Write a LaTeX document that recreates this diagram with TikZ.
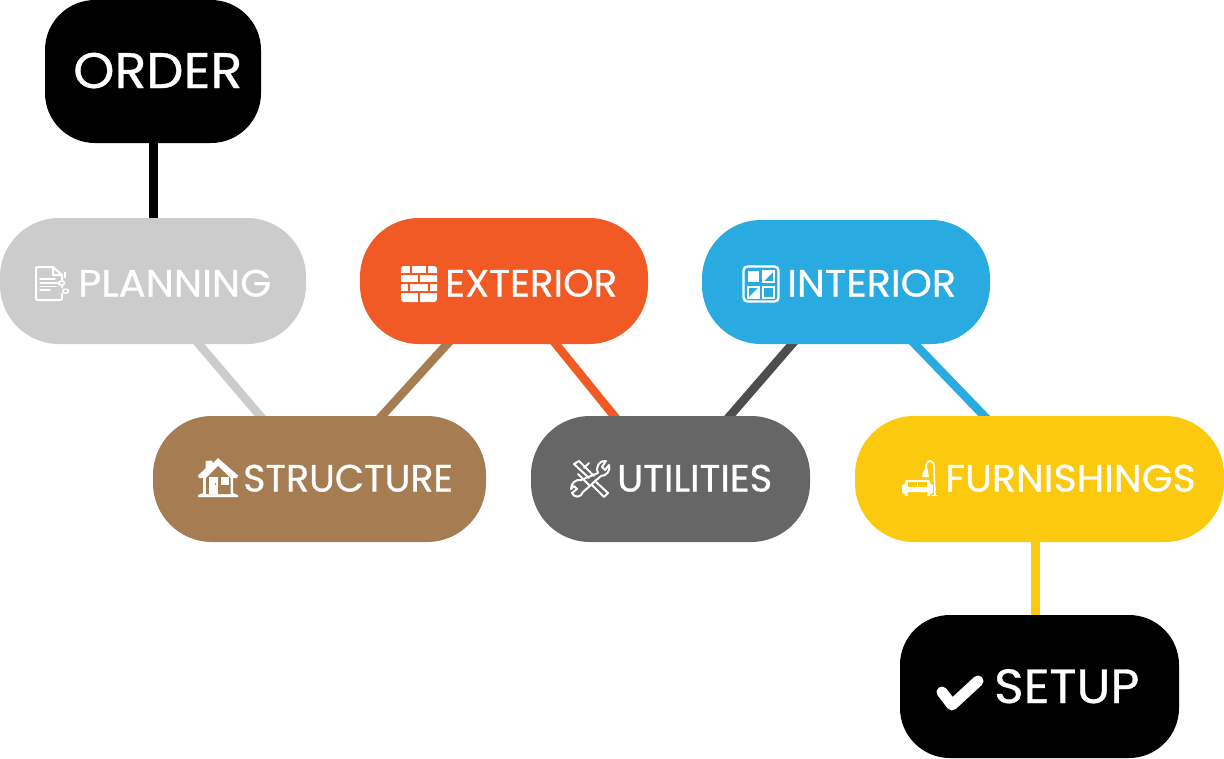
\documentclass[tikz,border=0pt]{standalone}
\usepackage{fontspec}
\setmainfont{Poppins}[FakeBold=0.7]
\usetikzlibrary{backgrounds}
\definecolor{cGray}{HTML}{CCCCCC}
\definecolor{cOrange}{HTML}{F15A24}
\definecolor{cBlue}{HTML}{29ABE2}
\definecolor{cBrown}{HTML}{A67C52}
\definecolor{cDark}{HTML}{666666}
\definecolor{cDarker}{HTML}{4D4D4D}
\definecolor{cYellow}{HTML}{FBC90D}
\newcommand{\wide}[2]{\scalebox{#1}[1]{#2}}
\tikzset{
  x=1pt,y=-1pt,
  stage/.style={rectangle,inner sep=0pt,rounded corners=59pt,minimum height=126pt},
  endstage/.style={rectangle,inner sep=0pt,rounded corners=50pt,minimum height=143pt,fill=black},
  lab/.style={anchor=base west,inner sep=0pt,text=white,font=\fontsize{38}{38}\selectfont},
  biglab/.style={lab,font=\fontsize{50}{50}\selectfont},
  link/.style={line width=8.5pt,shorten <=-6pt,shorten >=-6pt},
  thicklink/.style={line width=9pt,shorten <=-1pt,shorten >=-1pt},
  iconline/.style={draw=white,line width=2pt,line cap=round,line join=round}
}
\begin{document}
\begin{tikzpicture}
\useasboundingbox (0,0) rectangle (1224,758);
\node[endstage,minimum width=216pt] (order) at (153,71.5) {};
\node[stage,minimum width=306pt,fill=cGray] (planning) at (153,281) {};
\node[stage,minimum width=288pt,fill=cOrange] (exterior) at (504,281) {};
\node[stage,minimum width=288pt,minimum height=124pt,fill=cBlue] (interior) at (846,282) {};
\node[stage,minimum width=333pt,fill=cBrown] (structure) at (319.5,479) {};
\node[stage,minimum width=279pt,fill=cDark] (utilities) at (670.5,479) {};
\node[stage,minimum width=369pt,fill=cYellow] (furnishings) at (1039.5,479) {};
\node[endstage,minimum width=279pt] (setup) at (1039.5,686.5) {};

\begin{pgfonlayer}{background}
\draw[thicklink,black] (order.south) -- (planning.north);
\draw[link,cGray] ([xshift=46pt]planning.south) -- ([xshift=-59.5pt]structure.north);
\draw[link,cBrown] ([xshift=-57pt]exterior.south) -- ([xshift=62.5pt]structure.north);
\draw[link,cOrange] ([xshift=52pt]exterior.south) -- ([xshift=-56.5pt]utilities.north);
\draw[link,cDarker] ([xshift=-54pt]interior.south) -- ([xshift=59.5pt]utilities.north);
\draw[link,cBlue] ([xshift=69pt]interior.south) -- ([xshift=-55.5pt]furnishings.north);
\draw[thicklink,cYellow] ([xshift=-4.5pt]furnishings.south) -- ([xshift=-4.5pt]setup.north);
\end{pgfonlayer}

\node[biglab] (orderlab) at (73,88) {\wide{1.05}{ORDER}};
\node[lab] (planninglab) at (78,296.5) {\wide{1.055}{PLANNING}};
\node[lab] (exteriorlab) at (445,296.5) {\wide{1.02}{EXTERIOR}};
\node[lab] (interiorlab) at (787,296.5) {\wide{1.045}{INTERIOR}};
\node[lab] (structurelab) at (243,491.5) {\wide{1.0}{STRUCTURE}};
\node[lab] (utilitieslab) at (617,491.5) {\wide{1.013}{UTILITIES}};
\node[lab] (furnishingslab) at (945,491.5) {\wide{1.042}{FURNISHINGS}};
\node[biglab,font=\fontsize{48}{48}\selectfont] (setuplab) at (994,703) {\wide{1.045}{SETUP}};

% document icon
\draw[iconline] (53,267) -- (38,267) .. controls (36.5,267) and (36,267.5) .. (36,269) -- (36,298) .. controls (36,299.5) and (36.5,300) .. (38,300) -- (60,300) .. controls (61.5,300) and (62,299.5) .. (62,298) -- (62,294);
\draw[iconline] (62,287) -- (62,286) (62,280) -- (62,275) -- (53,267) -- (53,275) -- (62,275);
\draw[iconline,line width=1.5pt] (40,279) -- (55,279) (40,283) -- (57,283) (40,286.5) -- (56,286.5) (40,290) -- (50,290);
\fill[white,rounded corners=1.5pt] (58,280.5) rectangle (65,285.5);
\fill[cGray,rounded corners=0.8pt] (60,282) rectangle (63.5,284);
\fill[white,rounded corners=1.5pt] (62,288.5) rectangle (69,293.5);
\fill[cGray,rounded corners=0.8pt] (64,290) rectangle (67.5,292);
\fill[white] (64,272) -- (66,272) -- (66,278) -- (64,278) -- cycle;

% brick icon
\fill[white,rounded corners=3pt] (401,266) rectangle (437,302);
\fill[cOrange] (401,273) rectangle (437,275) (401,282) rectangle (437,284) (401,291) rectangle (437,293);
\fill[cOrange] (410,266) rectangle (412,273) (426,266) rectangle (428,273);
\fill[cOrange] (418,275) rectangle (420,282);
\fill[cOrange] (408,284) rectangle (410,291) (428,284) rectangle (430,291);
\fill[cOrange] (418,293) rectangle (420,302);

% window icon
\draw[white,line width=2.4pt,rounded corners=4pt] (743.5,266.5) rectangle (778.5,301.5);
\fill[white] (748,271) rectangle (759,282);
\fill[white] (763,282) -- (774,271) -- (763,271) -- cycle;
\draw[white,line width=1.2pt] (763,271) rectangle (774,282);
\fill[white] (748,298) -- (759,287) -- (759,298) -- cycle;
\draw[white,line width=1.2pt] (748,287) rectangle (759,298);
\draw[white,line width=1.2pt] (763,287) rectangle (774,298);

% house icon
\fill[white,line join=round] (199,478) -- (198,475.5) -- (205.5,468.5) -- (205.5,461) -- (212,460.5) -- (213,463) -- (218,458) -- (238,475.5) -- (237,478) -- (233,478) -- (233,493) -- (238,495) -- (238,497) -- (198,497) -- (198,495) -- (203,493) -- (203,478) -- cycle;
\fill[cBrown] (206,478) -- (218,466) -- (230.5,478) -- (230.5,494) -- (206,494) -- cycle;
\fill[white] (208.5,477) rectangle (217.5,494);
\fill[white] (221,477) rectangle (229,485);
\fill[cBrown] (215.5,484) circle (0.9pt);

% tools icon
\begin{scope}[line width=2pt,white,line join=round,line cap=round]
\draw (589,478) -- (574,464) -- (579,461) -- (594,476) ;
\draw (584,468) -- (589,463) (578,474) -- (590,486) -- (596,480);
\draw (596,482) -- (608,493) -- (604,497) -- (592,485);
\draw (598,473) .. controls (595,466) and (600,460) .. (606,461) -- (602,467) -- (605,470) -- (609,465) .. controls (611,471) and (606,476) .. (601,476) -- (583,492) .. controls (581,498) and (574,498) .. (572,493) -- (577,489) -- (574,486) -- (571,489) .. controls (571,483) and (576,479) .. (581,480) -- cycle;
\end{scope}

% sofa and lamp icon
\fill[white,rounded corners=2pt] (905,480) rectangle (930,492);
\fill[white,rounded corners=1.5pt] (902,484) rectangle (908,494);
\fill[white,rounded corners=1.5pt] (927,484) rectangle (933,494);
\fill[white] (905,494) rectangle (908,496) (927,494) rectangle (930,496);
\fill[cYellow] (908,481.5) rectangle (917,486.5);
\fill[cYellow] (918,481.5) rectangle (927,486.5);
\fill[white] (922,477) .. controls (922,472) and (925,469) .. (927,467) -- (929,477) -- cycle;
\draw[white,line width=1.6pt] (926,468) .. controls (926,458) and (934,459) .. (934,467) -- (935,495);
\draw[white,line width=1.6pt] (932,495.5) -- (938,495.5);

% check icon
\draw[white,line width=11pt,line cap=round,line join=round] (942,692) -- (952,705) -- (978,681);
\end{tikzpicture}
\end{document}
